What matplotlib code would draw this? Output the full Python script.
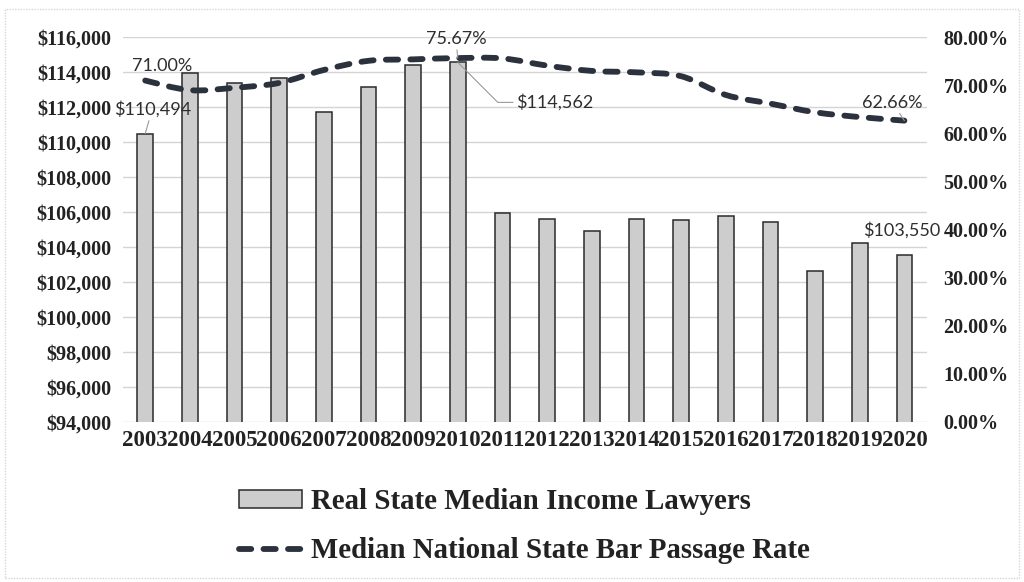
import matplotlib
matplotlib.use("Agg")
import matplotlib.pyplot as plt
import numpy as np
from matplotlib.path import Path
from matplotlib.patches import PathPatch, Rectangle
from matplotlib.lines import Line2D
from matplotlib.ticker import FuncFormatter, MultipleLocator

years = [str(y) for y in range(2003, 2021)]
income = [110494, 113950, 113400, 113650, 111700, 113150, 114400, 114562,
          105950, 105600, 104900, 105600, 105550, 105750, 105450, 102650,
          104250, 103550]
passage = [71.00, 69.0, 69.5, 70.5, 73.2, 75.1, 75.4, 75.67,
           75.6, 74.1, 73.0, 72.7, 71.9, 68.0, 66.2, 64.4, 63.4, 62.66]

serif = ["Liberation Serif", "DejaVu Serif"]
label_font = ["Lato", "DejaVu Sans"]
line_color = "#2b323d"
line_w = 4.2
dash = (0, (2.1, 2.1))

fig = plt.figure(figsize=(10.24, 5.82), dpi=100)
ax = fig.add_axes([0.120, 0.275, 0.785, 0.661])
ax2 = ax.twinx()

x = np.arange(len(years))

# bars: income on the left axis
ax.bar(x, income, width=0.35, color="#cdcdcd", edgecolor="#2a2a2a",
       linewidth=1.1, zorder=2)
ax.set_ylim(94000, 116000)
ax.set_xlim(-0.5, len(years) - 0.5)
ax.yaxis.set_major_locator(MultipleLocator(2000))
ax.yaxis.set_major_formatter(FuncFormatter(lambda v, p: f"${v:,.0f}"))
ax.grid(axis="y", color="#d4d4d4", linewidth=1.0, zorder=0)
ax.set_axisbelow(True)
ax.set_xticks(x)
ax.set_xticklabels(years)

# passage rate on the right axis, smoothed with cubic bezier segments
ax2.set_ylim(0, 80)
ax2.yaxis.set_major_locator(MultipleLocator(10))
ax2.yaxis.set_major_formatter(FuncFormatter(lambda v, p: f"{v:.2f}%"))

pts = np.column_stack([x, passage])
verts = [pts[0]]
codes = [Path.MOVETO]
n = len(pts)
for i in range(n - 1):
    p0 = pts[max(i - 1, 0)]
    p1 = pts[i]
    p2 = pts[i + 1]
    p3 = pts[min(i + 2, n - 1)]
    verts += [p1 + (p2 - p0) / 6, p2 - (p3 - p1) / 6, p2]
    codes += [Path.CURVE4] * 3
ax2.add_patch(PathPatch(Path(verts, codes), facecolor="none",
                        edgecolor=line_color, linewidth=line_w,
                        linestyle=dash, capstyle="round", zorder=3))

for a in (ax, ax2):
    for s in a.spines.values():
        s.set_visible(False)
    a.tick_params(length=0)

ax.tick_params(axis="y", labelsize=14.5, pad=8, labelcolor="#222222")
ax.tick_params(axis="x", labelsize=16.5, pad=6, labelcolor="#222222")
ax2.tick_params(axis="y", labelsize=14.5, pad=12, labelcolor="#222222")
for lbl in ax.get_yticklabels() + ax.get_xticklabels() + ax2.get_yticklabels():
    lbl.set_family(serif)
    lbl.set_weight("bold")

# data labels
lead = dict(arrowstyle="-", color="#9a9a9a", lw=0.8, shrinkA=0, shrinkB=0)
lab = dict(textcoords="offset pixels", fontsize=13, color="#2e2e2e",
           family=label_font)
ax2.annotate(f"{passage[0]:.2f}%", xy=(0, passage[0]), xytext=(17, 15),
             ha="center", va="center", **lab)
ax.annotate(f"${income[0]:,}", xy=(0, income[0]), xytext=(7, 24),
            ha="center", va="center", arrowprops=lead, **lab)
ax2.annotate(f"{passage[7]:.2f}%", xy=(7, passage[7]), xytext=(-2, 19),
             ha="center", va="center", arrowprops=lead, **lab)
ax.annotate(f"${income[7]:,}", xy=(7, income[7]), xytext=(58, -40),
            ha="left", va="center",
            arrowprops=dict(lead, connectionstyle="angle,angleA=180,angleB=-45,rad=0"),
            **lab)
ax2.annotate(f"{passage[-1]:.2f}%", xy=(17, passage[-1]), xytext=(-12, 18),
             ha="center", va="center", arrowprops=lead, **lab)
ax.annotate(f"${income[-1]:,}", xy=(17, income[-1]), xytext=(-3, 25),
            ha="center", va="center", **lab)

# legend below the plot
handles = [Rectangle((0, 0), 1, 1, facecolor="#cdcdcd", edgecolor="#2a2a2a",
                     linewidth=1.1),
           Line2D([], [], color=line_color, linewidth=line_w,
                  linestyle=dash, dash_capstyle="round")]
fig.legend(handles,
           ["Real State Median Income Lawyers",
            "Median National State Bar Passage Rate"],
           loc="center", bbox_to_anchor=(0.512, 0.096), frameon=False,
           prop={"family": serif, "weight": "bold", "size": 20.8},
           handlelength=2.2, handleheight=0.55, handletextpad=0.3,
           labelspacing=0.75, labelcolor="#222222")

# light frame around the chart area
fig.patches.append(Rectangle((0.005, 0.007), 0.99, 0.978,
                             transform=fig.transFigure, fill=False,
                             edgecolor="#d6d6d6", linewidth=1.0,
                             linestyle=(0, (1, 1))))

fig.savefig("out.png", dpi=100, facecolor="white")
